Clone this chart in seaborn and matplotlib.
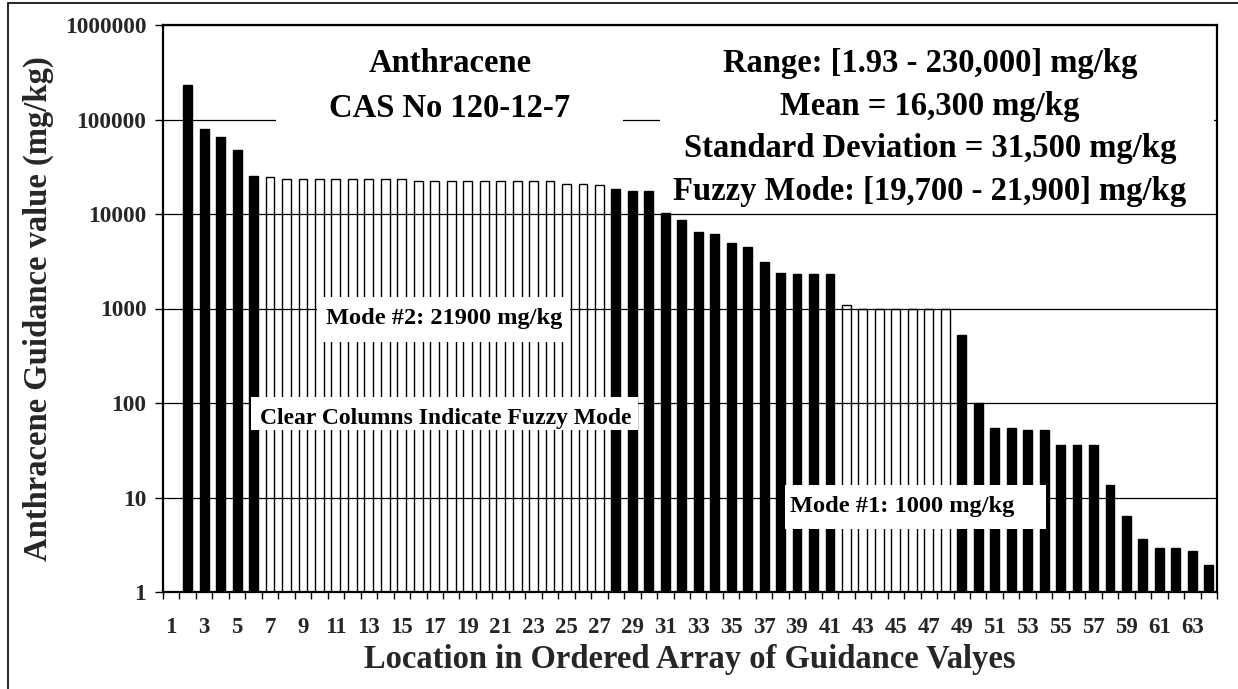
import numpy as np
import pandas as pd
import matplotlib
matplotlib.use("Agg")
import matplotlib.pyplot as plt
import seaborn as sns
from matplotlib.patches import Rectangle
from matplotlib.ticker import FixedLocator, FixedFormatter, NullFormatter, NullLocator

# ---------------- data ----------------
positions = list(range(2, 65))
values = [230000, 80000, 66000, 47000, 25500,            # 2-6
          24400, 23600, 23600, 23600, 23600, 23600, 23600, 23600, 23600,  # 7-15
          22300, 22300, 22300, 22300, 22300, 22300, 22300, 22300, 22300,  # 16-24
          20800, 20600, 20400,                            # 25-27
          18300, 17700, 17700,                            # 28-30
          10300, 8600, 6400, 6100, 4900, 4500, 3100, 2400, 2300, 2300, 2300,  # 31-41
          1080, 1000, 1000, 1000, 1000, 1000, 1000,       # 42-48
          520, 100, 54, 54, 52, 52, 36, 36, 36, 13.5,     # 49-58
          6.4, 3.6, 2.9, 2.9, 2.7, 1.93]                  # 59-64
fuzzy_positions = list(range(7, 28)) + list(range(42, 49))
all_positions = [str(i) for i in range(1, 65)]
x_tick_labels = [str(i) for i in range(1, 64, 2)]
y_tick_values = [1, 10, 100, 1000, 10000, 100000, 1000000]
y_tick_labels = ["1", "10", "100", "1000", "10000", "100000", "1000000"]

title_lines = ["Anthracene", "CAS No 120-12-7"]
stats_lines = ["Range: [1.93 - 230,000] mg/kg",
               "Mean = 16,300 mg/kg",
               "Standard Deviation = 31,500 mg/kg",
               "Fuzzy Mode: [19,700 - 21,900] mg/kg"]

df = pd.DataFrame({
    "pos": [str(p) for p in positions],
    "value": values,
    "group": ["Fuzzy" if p in fuzzy_positions else "Other" for p in positions],
})

# ---------------- style ----------------
sns.set_theme(style="white")
plt.rcParams["font.family"] = ["Liberation Serif", "DejaVu Serif"]
plt.rcParams["font.weight"] = "bold"

W, H = 1238, 689
fig = plt.figure(figsize=(W / 100, H / 100), dpi=100)
L, R, T, B = 163, 1217, 25, 592
ax = fig.add_axes([L / W, 1 - B / H, (R - L) / W, (B - T) / H])

sns.barplot(data=df, x="pos", y="value", hue="group", order=all_positions,
            palette={"Fuzzy": "white", "Other": "black"}, saturation=1,
            edgecolor="black", linewidth=1.0, width=0.54, dodge=False,
            errorbar=None, legend=False, ax=ax, zorder=2)
# clear columns: transparent fill
for p in ax.patches:
    fc = p.get_facecolor()
    if fc[0] > 0.9:
        p.set_facecolor("none")

ax.set_yscale("log")
ax.set_ylim(1, 1e6)
ax.set_xlim(-0.5, 63.5)

# y axis
ax.yaxis.set_major_locator(FixedLocator(y_tick_values))
ax.yaxis.set_major_formatter(FixedFormatter(y_tick_labels))
ax.yaxis.set_minor_locator(NullLocator())
ax.tick_params(axis="y", which="major", direction="out", length=6, width=1,
               color="black", labelsize=16.8, pad=6, left=True)
ax.yaxis.grid(True, which="major", color="black", linewidth=0.9)
ax.xaxis.grid(False)
ax.set_axisbelow(True)

# x axis: tick marks at slot boundaries, labels at odd positions
ax.xaxis.set_major_locator(FixedLocator(np.arange(-0.5, 64, 1.0)))
ax.xaxis.set_major_formatter(NullFormatter())
ax.xaxis.set_minor_locator(FixedLocator(np.arange(0, 63, 2)))
ax.xaxis.set_minor_formatter(FixedFormatter(x_tick_labels))
ax.tick_params(axis="x", which="major", direction="out", length=5, width=1,
               color="black", bottom=True)
ax.tick_params(axis="x", which="minor", length=0, labelsize=16.5, pad=18, bottom=True)

for s in ax.spines.values():
    s.set_visible(True)
    s.set_color("black")
    s.set_linewidth(1.6)
    s.set_zorder(6)

ax.set_xlabel("Location in Ordered Array of Guidance Valyes", fontsize=23.5,
              fontweight="bold")
ax.set_ylabel("Anthracene Guidance value (mg/kg)", fontsize=23.5, fontweight="bold")
ax.xaxis.set_label_coords(0.5, (B - 644) / (B - T))
ax.yaxis.set_label_coords((54 - L) / (R - L), 0.5)


def axf(px, py):
    return (px - L) / (R - L), (B - py) / (B - T)


def white_box(x0, y0, x1, y1):
    ax0, ay1 = axf(x0, y0)
    ax1, ay0 = axf(x1, y1)
    ax.add_patch(Rectangle((ax0, ay0), ax1 - ax0, ay1 - ay0, transform=ax.transAxes,
                           facecolor="white", edgecolor="none", zorder=4))


def label(px, py, s, size, ha="center"):
    xx, yy = axf(px, py)
    ax.text(xx, yy, s, transform=ax.transAxes, ha=ha, va="baseline",
            fontsize=size, fontweight="bold", color="black", zorder=5)


# title block
white_box(276, 32, 623, 135)
label(450, 72, title_lines[0], 23.5)
label(450, 117, title_lines[1], 23.5)

# statistics block
white_box(660, 32, 1214, 205)
for line, yb in zip(stats_lines, [72, 115, 157, 200]):
    label(930, yb, line, 23.5)

# annotation boxes
white_box(317, 297, 570, 342)
label(444, 324, "Mode #2: 21900 mg/kg", 17.6)
white_box(251, 397, 638, 430)
label(446, 424, "Clear Columns Indicate Fuzzy Mode", 17)
white_box(785, 485, 1046, 529)
label(790, 512, "Mode #1: 1000 mg/kg", 17.6, ha="left")

# outer frame of the figure
fig.patches.append(Rectangle((8 / W, -0.05), 1.2, 1 - 3 / H + 0.05,
                             transform=fig.transFigure, facecolor="none",
                             edgecolor="black", linewidth=1.2, zorder=10))

fig.savefig("out.png", dpi=100)
